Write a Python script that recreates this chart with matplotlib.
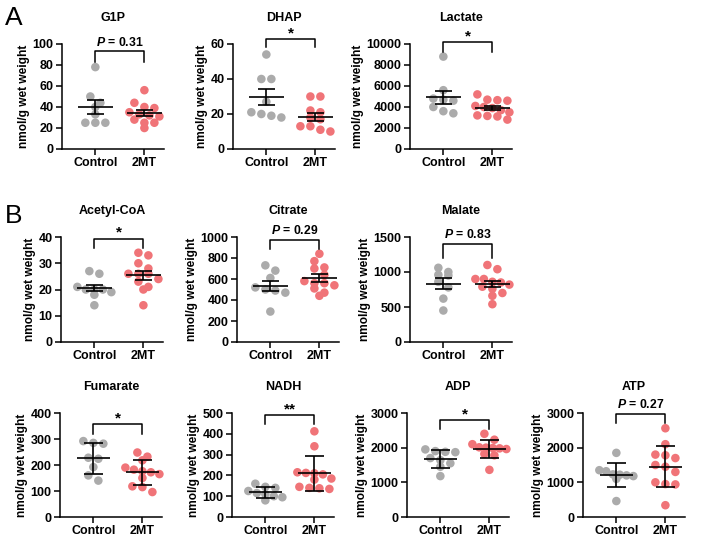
import numpy as np
import matplotlib.pyplot as plt

plt.rcParams['font.family'] = ['Liberation Sans', 'DejaVu Sans']
plt.rcParams['font.weight'] = 'bold'
plt.rcParams['axes.labelweight'] = 'bold'
plt.rcParams['mathtext.fontset'] = 'custom'
plt.rcParams['mathtext.it'] = 'Liberation Sans:italic:bold'
plt.rcParams['mathtext.rm'] = 'Liberation Sans:bold'

# ========== 数据 ==========
groups = ['Control', '2MT']

g1p_ctrl = [78, 50, 44, 40, 33, 25, 25, 25]
g1p_2mt = [56, 44, 40, 39, 35, 33, 32, 31, 28, 25, 25, 20]
dhap_ctrl = [54, 40, 40, 27, 21, 19, 18, 20]
dhap_2mt = [30, 30, 22, 21, 18, 17, 13, 13, 10, 11]
lactate_ctrl = [8800, 5600, 4800, 4700, 4600, 4000, 3600, 3400]
lactate_2mt = [5200, 4700, 4650, 4600, 4100, 4000, 3900, 3700, 3500, 3200, 3150, 3100, 2800]
acetyl_ctrl = [27, 26, 21, 20, 20, 20, 19, 18, 14]
acetyl_2mt = [34, 33, 30, 28, 26, 26, 26, 24, 23, 21, 20, 14]
citrate_ctrl = [730, 680, 610, 520, 500, 490, 470, 290]
citrate_2mt = [840, 770, 710, 700, 640, 560, 560, 580, 540, 510, 470, 440]
malate_ctrl = [1060, 1000, 960, 950, 860, 780, 620, 450]
malate_2mt = [1100, 1040, 900, 900, 860, 850, 820, 790, 760, 700, 660, 540]
fumarate_ctrl = [292, 285, 282, 228, 224, 192, 160, 140]
fumarate_2mt = [248, 232, 218, 190, 182, 176, 172, 165, 150, 118, 115, 96]
nadh_ctrl = [160, 145, 140, 125, 115, 110, 100, 95, 80]
nadh_2mt = [412, 340, 215, 212, 210, 205, 185, 180, 145, 140, 138, 135]
adp_ctrl = [1950, 1900, 1880, 1870, 1700, 1640, 1550, 1450, 1180]
adp_2mt = [2400, 2230, 2100, 2010, 2000, 1990, 1980, 1960, 1820, 1780, 1360]
atp_ctrl = [1850, 1350, 1320, 1230, 1220, 1200, 1180, 1100, 460]
atp_2mt = [2560, 2100, 1800, 1780, 1700, 1500, 1450, 1300, 1000, 950, 940, 340]

# 面板: 标题, 数据, y上限, 刻度间隔, 误差类型, 显著性标注, 括号高度(上, 下)
panels = [
    ('G1P', g1p_ctrl, g1p_2mt, 100, 20, 'sem', '$P$ = 0.31', (93, 83)),
    ('DHAP', dhap_ctrl, dhap_2mt, 60, 20, 'sem', '*', (62.8, 58)),
    ('Lactate', lactate_ctrl, lactate_2mt, 10000, 2000, 'sem', '*', (10150, 9250)),
    ('Acetyl-CoA', acetyl_ctrl, acetyl_2mt, 40, 10, 'sem', '*', (39.4, 35.8)),
    ('Citrate', citrate_ctrl, citrate_2mt, 1000, 200, 'sem', '$P$ = 0.29', (975, 889)),
    ('Malate', malate_ctrl, malate_2mt, 1500, 500, 'sem', '$P$ = 0.83', (1398, 1195)),
    ('Fumarate', fumarate_ctrl, fumarate_2mt, 400, 100, 'sd', '*', (356, 318)),
    ('NADH', nadh_ctrl, nadh_2mt, 500, 100, 'sd', '**', (492, 449)),
    ('ADP', adp_ctrl, adp_2mt, 3000, 1000, 'sd', '*', (2808, 2548)),
    ('ATP', atp_ctrl, atp_2mt, 3000, 1000, 'sd', '$P$ = 0.27', (2981, 2712)),
]

# 坐标轴像素位置 (左, 上, 下)
axes_px = [
    (62, 44, 149), (233, 44, 149), (410, 44, 149),
    (61, 237, 342), (237, 237, 342), (410, 237, 342),
    (60, 413, 517), (232, 413, 517), (407, 413, 517), (583, 413, 517),
]

W, H = 709, 546
AX_W = 102
XLIM = (-0.68, 1.4)
GRAY = '#ABABAB'
RED = '#F07478'


def row_offsets(vals, px_per_y, px_per_x, thresh=7.0, gap=10.0, max_span=34.0):
    """按行分组的散点布局(类似GraphPad), 返回x方向偏移(数据单位)"""
    vals = np.asarray(vals, dtype=float)
    order = np.argsort(-vals, kind='stable')
    offs = np.zeros(len(vals))
    rows = []
    for i in order:
        if rows and (vals[rows[-1][0]] - vals[i]) * px_per_y < thresh:
            rows[-1].append(i)
        else:
            rows.append([i])
    for row in rows:
        n = len(row)
        g = gap if n < 2 else min(gap, max_span / (n - 1))
        for k, i in enumerate(row):
            offs[i] = (k - (n - 1) / 2) * g / px_per_x
    return offs


fig = plt.figure(figsize=(W / 100, H / 100), dpi=100)

for (title, ctrl, mt, ymax, step, err, sig, br), (L, top, bot) in zip(panels, axes_px):
    ax = fig.add_axes([L / W, 1 - bot / H, AX_W / W, (bot - top) / H])
    ax.set_xlim(*XLIM)
    ax.set_ylim(0, ymax)
    px_per_y = (bot - top) / ymax
    px_per_x = AX_W / (XLIM[1] - XLIM[0])

    row3 = err == 'sd'
    half_mean = 0.34 if row3 else 0.36
    half_cap = 0.2 if row3 else 0.17

    for i, (vals, color) in enumerate([(ctrl, GRAY), (mt, RED)]):
        vals = np.asarray(vals, dtype=float)
        xs = i + row_offsets(vals, px_per_y, px_per_x)
        ax.scatter(xs, vals, s=38, color=color, edgecolors='none', zorder=2, clip_on=False)
        m = vals.mean()
        e = vals.std(ddof=1)
        if err == 'sem':
            e = e / np.sqrt(len(vals))
        ax.hlines(m, i - half_mean, i + half_mean, color='black', lw=1.2, zorder=3)
        ax.vlines(i, m - e, m + e, color='black', lw=1.2, zorder=3)
        ax.hlines([m - e, m + e], i - half_cap, i + half_cap, color='black', lw=1.2, zorder=3)

    # 显著性括号
    ax.plot([0, 0, 1, 1], [br[1], br[0], br[0], br[1]], color='black', lw=1.1,
            clip_on=False, zorder=3)
    if sig.startswith('*'):
        ax.annotate(sig, xy=(0.5, br[0]), xytext=(0, -1), textcoords='offset points',
                    ha='center', va='bottom', fontsize=11, fontweight='bold',
                    annotation_clip=False)
    else:
        ax.annotate(sig, xy=(0.5, br[0]), xytext=(0, 2), textcoords='offset points',
                    ha='center', va='bottom', fontsize=8.8, fontweight='bold',
                    annotation_clip=False)

    ax.annotate(title, xy=(0.5, 1), xycoords='axes fraction', xytext=(0, 19),
                textcoords='offset points', ha='center', va='center', fontsize=9,
                fontweight='bold')

    ax.set_yticks(np.arange(0, ymax + 1, step))
    ax.set_xticks([0, 1])
    ax.set_xticklabels(groups, fontweight='bold')
    ax.set_ylabel('nmol/g wet weight', fontsize=8.6, fontweight='bold', labelpad=2)
    ax.tick_params(axis='both', labelsize=9, width=1.1, length=4, pad=2)
    for lab in ax.get_yticklabels():
        lab.set_fontweight('bold')
    for side in ['top', 'right']:
        ax.spines[side].set_visible(False)
    for side in ['left', 'bottom']:
        ax.spines[side].set_linewidth(1.1)

fig.text(5 / W, 1 - 18 / H, 'A', fontsize=19, fontweight='normal', va='center', ha='left')
fig.text(5 / W, 1 - 216 / H, 'B', fontsize=19, fontweight='normal', va='center', ha='left')

fig.savefig('out.png', dpi=100)
